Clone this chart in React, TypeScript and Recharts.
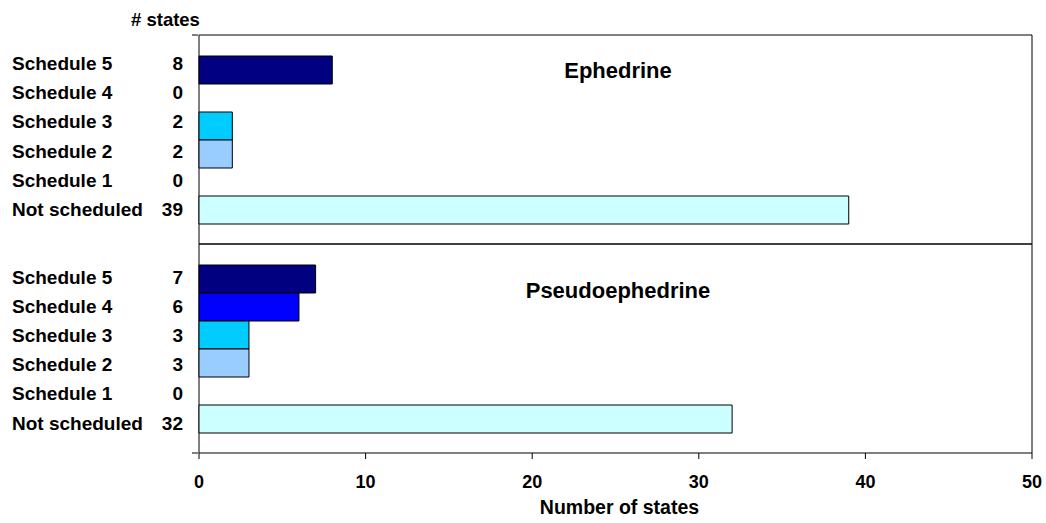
import { BarChart, Bar, XAxis, YAxis, ReferenceArea } from 'recharts'

const drugs = ['Ephedrine', 'Pseudoephedrine']
const schedules = ['Schedule 5', 'Schedule 4', 'Schedule 3', 'Schedule 2', 'Schedule 1', 'Not scheduled']
const ephedrineStates = [8, 0, 2, 2, 0, 39]
const pseudoephedrineStates = [7, 6, 3, 3, 0, 32]
const xTicks = [0, 10, 20, 30, 40, 50]
const groupEdges = [0, 1, 2]
const scheduleColors = ['#000080', '#0000FF', '#00CCFF', '#99CCFF', '#FFFFFF', '#CCFFFF']

const FONT = '"Liberation Sans", Arial, sans-serif'
const ROW_STEP = 29.2
const GROUP_SHIFT = [-3, 1.5]
const TICK_LEN = 6

const data = drugs.map((drug, d) => {
  const vals = d === 0 ? ephedrineStates : pseudoephedrineStates
  const row: Record<string, string | number> = { drug }
  schedules.forEach((_, i) => { row[`s${i}`] = vals[i] })
  return row
})

// the left column: schedule name and count for every row of a drug group
function GroupTick(props: any) {
  const { y, payload } = props
  const vals = payload.index === 0 ? ephedrineStates : pseudoephedrineStates
  const style = { fontFamily: FONT, fontWeight: 700, fontSize: 19, fill: '#000' }
  return (
    <g>
      {schedules.map((s, i) => {
        const cy = y + (i - 2.5) * ROW_STEP + GROUP_SHIFT[payload.index]
        return (
          <g key={s}>
            <text x={12} y={cy} dominantBaseline="central" style={style}>{s}</text>
            <text x={183} y={cy} dominantBaseline="central" textAnchor="end" style={style}>{vals[i]}</text>
          </g>
        )
      })}
    </g>
  )
}

// x tick: short mark below the axis plus the number
function XTick(props: any) {
  const { x, y, payload } = props
  return (
    <g>
      <line x1={x} x2={x} y1={y} y2={y + TICK_LEN} stroke="#000" />
      <text
        x={x}
        y={y + 35}
        textAnchor="middle"
        style={{ fontFamily: FONT, fontWeight: 700, fontSize: 18, fill: '#000' }}
      >
        {payload.value}
      </text>
    </g>
  )
}

// y tick at group edges: short mark to the left of the plot
function EdgeTick(props: any) {
  const { x, y } = props
  return <line x1={x - TICK_LEN} x2={x} y1={y} y2={y} stroke="#000" />
}

export default function App() {
  return (
    <div style={{ position: 'relative', width: 1046, height: 523, background: '#fff' }}>
      <style>{'body{margin:0}'}</style>
      <BarChart
        width={1046}
        height={523}
        data={data}
        layout="vertical"
        margin={{ top: 35, right: 14, bottom: 4, left: 197 }}
        barGap={0}
        barSize={28}
      >
        <XAxis
          type="number"
          domain={[0, 50]}
          ticks={xTicks}
          interval={0}
          height={66}
          tickSize={0}
          tickMargin={0}
          axisLine={false}
          tickLine={false}
          tick={(p: any) => <XTick {...p} />}
          label={{ value: 'Number of states', position: 'insideBottom', offset: 5, dx: 4, fill: '#000', fontSize: 19.5, fontWeight: 700, fontFamily: FONT }}
        />
        <YAxis
          type="category"
          dataKey="drug"
          width={1}
          axisLine={false}
          tickLine={false}
          interval={0}
          tick={(p: any) => <GroupTick {...p} />}
        />
        <YAxis
          yAxisId="edges"
          type="number"
          domain={[0, 2]}
          ticks={groupEdges}
          interval={0}
          width={1}
          tickSize={0}
          tickMargin={0}
          axisLine={false}
          tickLine={false}
          tick={(p: any) => <EdgeTick {...p} />}
        />
        {drugs.map((d) => (
          <ReferenceArea key={d} y1={d} y2={d} fill="none" fillOpacity={0} stroke="#000" strokeOpacity={1} />
        ))}
        {schedules.map((s, i) => (
          <Bar
            key={s}
            dataKey={`s${i}`}
            name={s}
            fill={scheduleColors[i]}
            stroke="#000"
            strokeWidth={1}
            isAnimationActive={false}
          />
        ))}
      </BarChart>
      <svg
        width={1046}
        height={523}
        style={{ position: 'absolute', left: 0, top: 0, pointerEvents: 'none' }}
      >
        <g style={{ fontFamily: FONT, fontWeight: 700, fill: '#000' }}>
          <text x={131} y={26} fontSize={18.5}># states</text>
          <text x={618} y={78} fontSize={22} textAnchor="middle">{drugs[0]}</text>
          <text x={618} y={298} fontSize={22} textAnchor="middle">{drugs[1]}</text>
        </g>
      </svg>
    </div>
  )
}
